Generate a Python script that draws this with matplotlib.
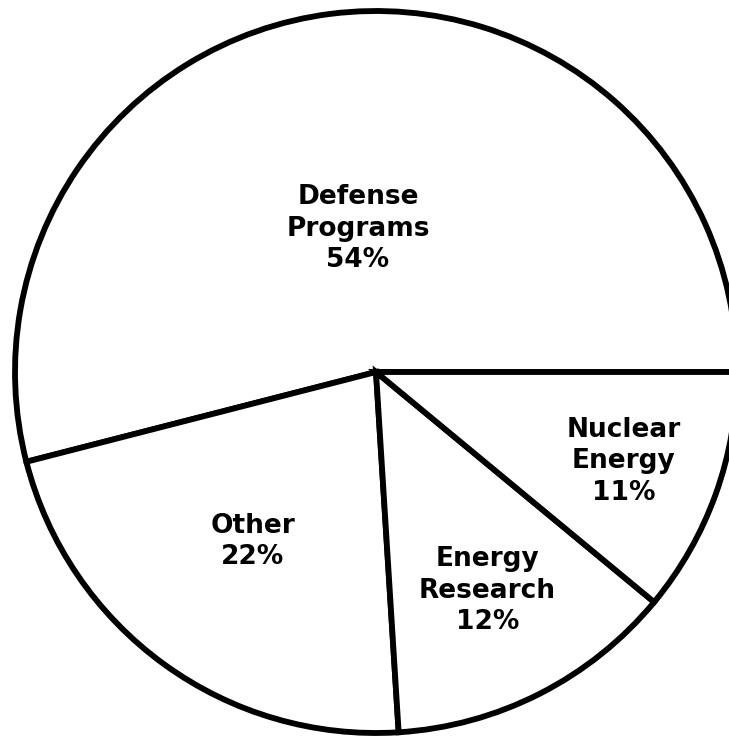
import numpy as np
import matplotlib.pyplot as plt

# slices counter-clockwise from 3 o'clock
labels = ["Defense\nPrograms", "Other", "Energy\nResearch", "Nuclear\nEnergy"]
printed_pct = [54, 22, 12, 11]      # what the labels say
slice_sizes = [54, 22, 13, 11]      # how big the slices are actually drawn

# how far out (fraction of radius) each label sits
label_r = [0.40, 0.58, 0.68, 0.73]

fig = plt.figure(figsize=(7.29, 7.36), dpi=100)
ax = fig.add_axes([15/729, 3/736, 722/729, 722/736])

wedges, _ = ax.pie(slice_sizes, startangle=0, counterclock=True, radius=1,
                   colors=["white"] * len(slice_sizes),
                   wedgeprops=dict(edgecolor="black", linewidth=4.2, clip_on=False))

for w, lab, val, r in zip(wedges, labels, printed_pct, label_r):
    mid = np.deg2rad((w.theta1 + w.theta2) / 2)
    ax.text(r * np.cos(mid), r * np.sin(mid), f"{lab}\n{val}%",
            ha="center", va="center", fontsize=19, fontweight="bold",
            family="DejaVu Sans", linespacing=1.28, color="black")

ax.set_xlim(-1, 1)
ax.set_ylim(-1, 1)
ax.set_axis_off()

fig.savefig("out.png", dpi=100, facecolor="white")
